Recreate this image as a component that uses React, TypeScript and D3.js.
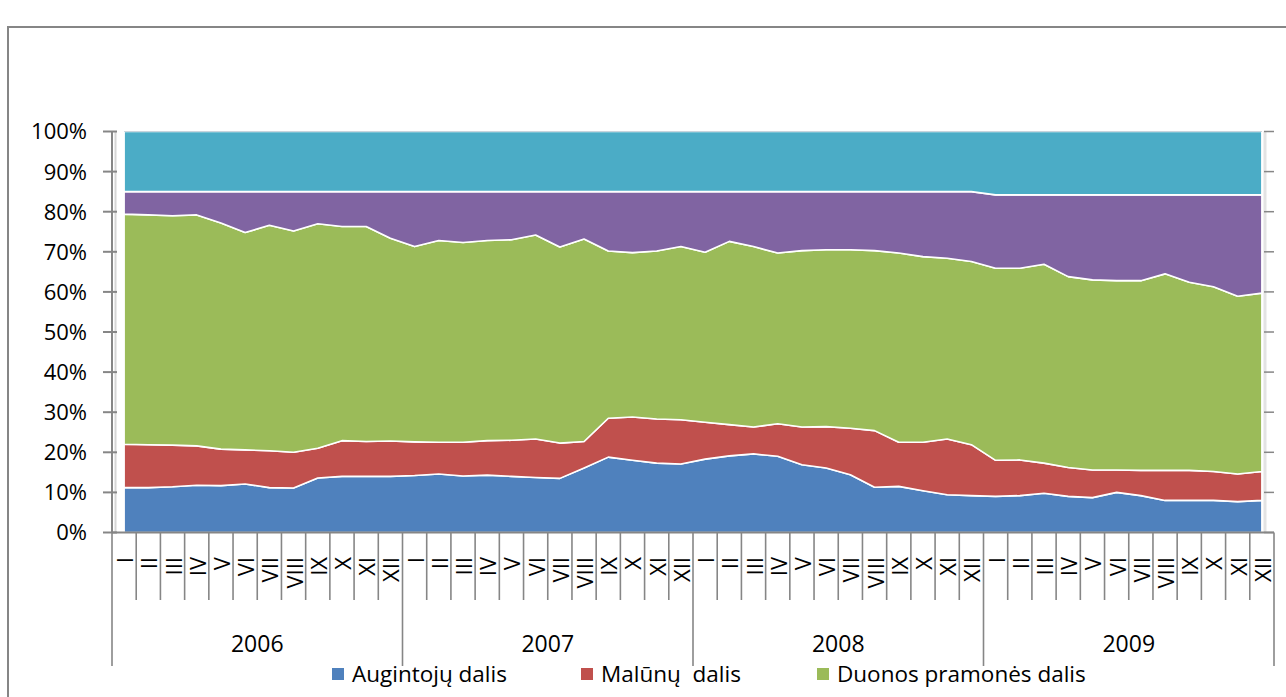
import React from 'react';
import * as d3 from 'd3';

const years = ['2006', '2007', '2008', '2009'];
const months = ['I', 'II', 'III', 'IV', 'V', 'VI', 'VII', 'VIII', 'IX', 'X', 'XI', 'XII'];
const yTicks = [0, 10, 20, 30, 40, 50, 60, 70, 80, 90, 100];

const seriesNames = ['Augintojų dalis', 'Malūnų  dalis', 'Duonos pramonės dalis', 'Kita dalis 1', 'Kita dalis 2'];
const seriesColors = ['#4F81BD', '#C0504D', '#9BBB59', '#8064A2', '#4BACC6'];

const augintoju = [
  11.2, 11.2, 11.4, 11.8, 11.7, 12.1, 11.2, 11.1, 13.6, 14.0, 14.0, 14.0,
  14.2, 14.6, 14.1, 14.3, 14.0, 13.7, 13.5, 16.1, 18.8, 18.0, 17.3, 17.1,
  18.3, 19.1, 19.6, 19.0, 16.9, 16.1, 14.4, 11.3, 11.5, 10.4, 9.4, 9.2,
  9.0, 9.2, 9.8, 9.0, 8.7, 10.0, 9.2, 8.0, 8.0, 8.0, 7.7, 8.0,
];
const malunu = [
  10.8, 10.7, 10.4, 9.8, 9.1, 8.5, 9.2, 8.9, 7.4, 8.9, 8.7, 8.8,
  8.4, 7.9, 8.4, 8.6, 9.0, 9.6, 8.8, 6.6, 9.7, 10.8, 11.0, 11.0,
  9.2, 7.8, 6.7, 8.1, 9.4, 10.3, 11.6, 14.1, 11.0, 12.1, 13.9, 12.7,
  9.0, 8.9, 7.5, 7.2, 6.9, 5.6, 6.3, 7.5, 7.5, 7.2, 6.9, 7.2,
];
const duonos = [
  57.4, 57.3, 57.2, 57.6, 56.4, 54.2, 56.2, 55.2, 56.0, 53.4, 53.6, 50.6,
  48.7, 50.3, 49.8, 49.9, 50.0, 50.9, 48.9, 50.5, 41.7, 41.0, 41.9, 43.2,
  42.4, 45.7, 45.0, 42.6, 44.0, 44.1, 44.5, 44.9, 47.2, 46.3, 45.1, 45.7,
  47.9, 47.8, 49.6, 47.6, 47.4, 47.2, 47.3, 49.0, 46.9, 46.1, 44.3, 44.5,
];
const kita1 = [
  5.6, 5.8, 6.0, 5.8, 7.8, 10.2, 8.4, 9.8, 8.0, 8.7, 8.7, 11.6,
  13.7, 12.2, 12.7, 12.2, 12.0, 10.8, 13.8, 11.8, 14.8, 15.2, 14.8, 13.7,
  15.1, 12.4, 13.7, 15.3, 14.7, 14.5, 14.5, 14.7, 15.3, 16.2, 16.6, 17.4,
  18.3, 18.3, 17.3, 20.4, 21.2, 21.4, 21.4, 19.7, 21.8, 22.9, 25.3, 24.5,
];
const kita2 = [
  15.0, 15.0, 15.0, 15.0, 15.0, 15.0, 15.0, 15.0, 15.0, 15.0, 15.0, 15.0,
  15.0, 15.0, 15.0, 15.0, 15.0, 15.0, 15.0, 15.0, 15.0, 15.0, 15.0, 15.0,
  15.0, 15.0, 15.0, 15.0, 15.0, 15.0, 15.0, 15.0, 15.0, 15.0, 15.0, 15.0,
  15.8, 15.8, 15.8, 15.8, 15.8, 15.8, 15.8, 15.8, 15.8, 15.8, 15.8, 15.8,
];

const legendItems = [0, 1, 2];

const W = 1286;
const H = 697;
const FONT = "'Open Sans', sans-serif";

export default function App() {
  const allSeries = [augintoju, malunu, duonos, kita1, kita2];
  const n = augintoju.length;
  const keys = allSeries.map((_, i) => 's' + i);
  const rows = d3.range(n).map((i) => {
    const r: any = { i };
    allSeries.forEach((s, k) => (r[keys[k]] = s[i]));
    return r;
  });
  const stacked = d3.stack().keys(keys)(rows);

  const x0 = 112;
  const x1 = 1274;
  const yTop = 131.5;
  const yBot = 532.5;

  const xBand = d3.scaleBand<number>().domain(d3.range(n)).range([x0, x1]).padding(0);
  const bw = xBand.bandwidth();
  const cx = (i: number) => (xBand(i) as number) + bw / 2;
  const y = d3.scaleLinear().domain([0, 100]).range([yBot, yTop]);

  const area = d3
    .area<any>()
    .x((d) => cx(d.data.i))
    .y0((d) => y(d[0]))
    .y1((d) => y(d[1]));

  const yearX = d3.scaleBand<string>().domain(years).range([x0, x1]);

  const axisColor = '#868686';

  return (
    <svg
      width={W}
      height={H}
      style={{ position: 'absolute', left: 0, top: 0, background: '#fff' }}
      fontFamily={FONT}
    >
      {/* outer chart frame */}
      <rect x={8} y={27} width={1300} height={700} fill="#fff" stroke={axisColor} strokeWidth={2} />

      {/* plot-area shadow on the right */}
      <line x1={1265} x2={1265} y1={yTop} y2={yBot} stroke="#e3e3e3" strokeWidth={3} />

      {/* areas */}
      {stacked.map((s, k) => (
        <path key={k} d={area(s as any) || ''} fill={seriesColors[k]} stroke="#fff" strokeWidth={1.6} strokeLinejoin="round" />
      ))}
      <line x1={cx(0)} x2={cx(n - 1)} y1={yTop} y2={yTop} stroke="#c8d4dc" strokeWidth={1} />

      {/* left axis */}
      <line x1={x0} x2={x0} y1={yTop} y2={yBot} stroke={axisColor} strokeWidth={2} />
      <line x1={x0 + 3.5} x2={x0 + 3.5} y1={yTop} y2={yBot} stroke="#d6d6d6" strokeWidth={2} />
      {yTicks.map((t) => (
        <g key={t}>
          <line x1={103} x2={117} y1={y(t)} y2={y(t)} stroke={axisColor} strokeWidth={2} />
          <line x1={1264} x2={1274} y1={y(t)} y2={y(t)} stroke={axisColor} strokeWidth={1.5} />
          <text x={87} y={y(t)} dy="0.36em" textAnchor="end" fontSize={22} fill="#000">
            {t + '%'}
          </text>
        </g>
      ))}

      {/* bottom axis */}
      <line x1={x0} x2={x1} y1={yBot} y2={yBot} stroke={axisColor} strokeWidth={2} />
      {d3.range(n + 1).map((i) => {
        const xx = i < n ? (xBand(i) as number) : x1;
        const isYear = i % 12 === 0;
        return (
          <line
            key={'t' + i}
            x1={xx}
            x2={xx}
            y1={yBot}
            y2={isYear ? 666 : 600}
            stroke={axisColor}
            strokeWidth={1.6}
          />
        );
      })}
      {d3.range(n).map((i) => (
        <text
          key={'m' + i}
          transform={`translate(${cx(i)},${557}) rotate(-90)`}
          textAnchor="end"
          dominantBaseline="central"
          fontSize={22}
          fill="#000"
        >
          {months[i % 12]}
        </text>
      ))}
      {years.map((yr) => (
        <text
          key={yr}
          x={(yearX(yr) as number) + yearX.bandwidth() / 2}
          y={652}
          textAnchor="middle"
          fontSize={23}
          fill="#000"
        >
          {yr}
        </text>
      ))}

      {/* legend */}
      {legendItems.map((k, j) => {
        const lx = [332, 581, 817][j];
        return (
          <g key={'l' + k}>
            <rect x={lx} y={668} width={12} height={12} fill={seriesColors[k]} />
            <text x={lx + 20} y={682} fontSize={22.5} fill="#000" style={{ whiteSpace: 'pre' }}>
              {seriesNames[k]}
            </text>
          </g>
        );
      })}
    </svg>
  );
}
